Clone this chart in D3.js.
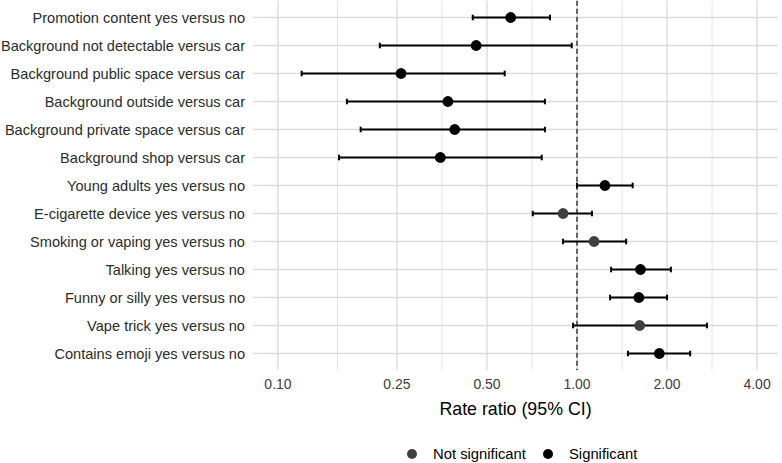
<!DOCTYPE html>
<html>
<head>
<meta charset="utf-8">
<script src="https://cdn.jsdelivr.net/npm/d3@7"></script>
<style>
  body { margin: 0; background: #fff; }
  text { font-family: "Liberation Sans", Arial, sans-serif; }
</style>
</head>
<body>
<div id="chart"></div>
<script>
// rows, top to bottom
var labels = [
  "Promotion content yes versus no",
  "Background not detectable versus car",
  "Background public space versus car",
  "Background outside versus car",
  "Background private space versus car",
  "Background shop versus car",
  "Young adults yes versus no",
  "E-cigarette device yes versus no",
  "Smoking or vaping yes versus no",
  "Talking yes versus no",
  "Funny or silly yes versus no",
  "Vape trick yes versus no",
  "Contains emoji yes versus no"
];
var estimate = [0.60, 0.46, 0.258, 0.37, 0.39, 0.349, 1.24, 0.898, 1.14, 1.63, 1.61, 1.62, 1.885];
var lower    = [0.448, 0.219, 0.120, 0.170, 0.189, 0.160, 1.00, 0.711, 0.898, 1.30, 1.29, 0.97, 1.48];
var upper    = [0.812, 0.96, 0.573, 0.781, 0.781, 0.762, 1.535, 1.122, 1.46, 2.06, 2.00, 2.72, 2.39];
var significant = [true, true, true, true, true, true, true, false, false, true, true, false, true];
var tickValues = [0.10, 0.25, 0.50, 1.00, 2.00, 4.00];
var legendLabels = ["Not significant", "Significant"];

var width = 782, height = 463;
var panel = { left: 253, right: 778, top: 0.7, bottom: 370.3 };
var colSig = "#000000", colNot = "#404040";

var svg = d3.select("#chart").append("svg")
  .attr("width", width)
  .attr("height", height);

var x = d3.scaleLog().base(2)
  .domain([0.0825, 4.7])
  .range([panel.left, panel.right]);

var y = d3.scalePoint()
  .domain(labels)
  .range([panel.top, panel.bottom])
  .padding(0.6);

// minor grid sits halfway between majors on the log scale
var minor = [];
for (var i = 0; i < tickValues.length - 1; i++) {
  minor.push(Math.sqrt(tickValues[i] * tickValues[i + 1]));
}

var grid = svg.append("g").attr("class", "grid");
grid.selectAll("line.minor")
  .data(minor)
  .enter().append("line")
  .attr("class", "minor")
  .attr("x1", d => x(d)).attr("x2", d => x(d))
  .attr("y1", panel.top).attr("y2", panel.bottom)
  .style("stroke", "#e6e6e6").style("stroke-width", 1);

grid.selectAll("line.vmajor")
  .data(tickValues)
  .enter().append("line")
  .attr("class", "vmajor")
  .attr("x1", d => x(d)).attr("x2", d => x(d))
  .attr("y1", panel.top).attr("y2", panel.bottom)
  .style("stroke", "#dcdcdc").style("stroke-width", 1.4);

grid.selectAll("line.hmajor")
  .data(labels)
  .enter().append("line")
  .attr("class", "hmajor")
  .attr("x1", panel.left).attr("x2", panel.right)
  .attr("y1", d => y(d)).attr("y2", d => y(d))
  .style("stroke", "#dcdcdc").style("stroke-width", 1.4);

// reference line at 1
svg.append("line")
  .attr("x1", x(1)).attr("x2", x(1))
  .attr("y1", panel.top).attr("y2", panel.bottom)
  .style("stroke", "#3a3a3a")
  .style("stroke-width", 1.5)
  .style("stroke-dasharray", "5,3");

// y labels
var maxLabel = panel.left - 9;
svg.append("g").selectAll("text")
  .data(labels)
  .enter().append("text")
  .attr("x", panel.left - 8)
  .attr("y", d => y(d))
  .attr("dy", "0.35em")
  .attr("text-anchor", "end")
  .style("font-size", "14.6px")
  .style("fill", "#2b2b2b")
  .text(d => d)
  .each(function () {
    // squeeze any label that would run past the left edge
    if (this.getComputedTextLength() > maxLabel) {
      d3.select(this)
        .attr("textLength", maxLabel)
        .attr("lengthAdjust", "spacingAndGlyphs");
    }
  });

// x axis tick labels
svg.append("g").selectAll("text")
  .data(tickValues)
  .enter().append("text")
  .attr("x", d => x(d))
  .attr("y", 389)
  .attr("text-anchor", "middle")
  .style("font-size", "14px")
  .style("fill", "#3d3d3d")
  .text(d => d3.format(".2f")(d));

svg.append("text")
  .attr("x", (panel.left + panel.right) / 2)
  .attr("y", 415)
  .attr("text-anchor", "middle")
  .style("font-size", "17.8px")
  .style("fill", "#000")
  .text("Rate ratio (95% CI)");

// error bars
var rows = labels.map(function (d, i) {
  return { label: d, est: estimate[i], lo: lower[i], hi: upper[i], sig: significant[i] };
});

var bars = svg.append("g").selectAll("g.bar")
  .data(rows)
  .enter().append("g")
  .attr("class", "bar");

bars.append("line")
  .attr("x1", d => x(d.lo)).attr("x2", d => x(d.hi))
  .attr("y1", d => y(d.label)).attr("y2", d => y(d.label))
  .style("stroke", "#000").style("stroke-width", 2);

bars.append("line")
  .attr("x1", d => x(d.lo)).attr("x2", d => x(d.lo))
  .attr("y1", d => y(d.label) - 2.8).attr("y2", d => y(d.label) + 2.8)
  .style("stroke", "#000").style("stroke-width", 2);

bars.append("line")
  .attr("x1", d => x(d.hi)).attr("x2", d => x(d.hi))
  .attr("y1", d => y(d.label) - 2.8).attr("y2", d => y(d.label) + 2.8)
  .style("stroke", "#000").style("stroke-width", 2);

bars.append("circle")
  .attr("cx", d => x(d.est))
  .attr("cy", d => y(d.label))
  .attr("r", 5.4)
  .style("fill", d => d.sig ? colSig : colNot);

// legend
var legend = svg.append("g").attr("class", "legend");
var legendX = [412, 548];
legendLabels.forEach(function (lab, i) {
  legend.append("circle")
    .attr("cx", legendX[i]).attr("cy", 454)
    .attr("r", 5)
    .style("fill", i === 0 ? colNot : colSig);
  legend.append("text")
    .attr("x", legendX[i] + 21).attr("y", 454)
    .attr("dy", "0.35em")
    .style("font-size", "14.8px")
    .style("fill", "#000")
    .text(lab);
});
</script>
</body>
</html>
